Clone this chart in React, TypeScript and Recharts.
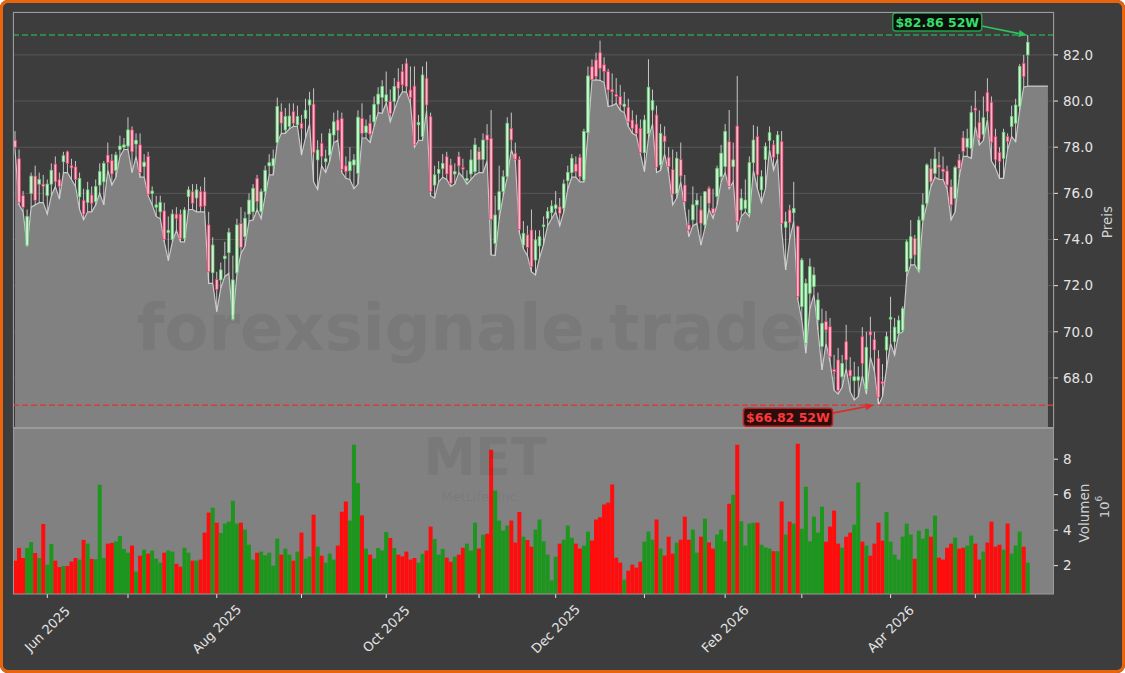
import React from 'react';
import { ComposedChart, Bar, Area, XAxis, YAxis, CartesianGrid, ReferenceLine, ReferenceDot, Cell } from 'recharts';

// ---------- data ----------
const opens = [
78.3, 77.5, 75.9, 73.75, 76.0, 76.75, 76.4, 76.4, 75.9, 76.4,
77.27, 76.6, 77.37, 77.8, 77.2, 77.15, 75.85, 75.7, 75.6, 75.93,
75.64, 76.36, 76.5, 77.66, 77.42, 77.0, 77.9, 78.0, 78.05, 78.75,
78.14, 78.1, 77.16, 77.6, 76.0, 75.4, 75.2, 75.24, 74.3, 74.0,
75.1, 75.1, 74.05, 75.86, 76.07, 75.8, 76.07, 76.07, 74.63, 72.56,
72.27, 72.25, 73.17, 73.43, 70.54, 72.56, 74.7, 74.12, 75.1, 75.2,
76.65, 75.2, 76.07, 77.19, 77.19, 78.2, 79.54, 78.75, 78.9, 79.54,
78.97, 79.04, 79.25, 79.83, 79.87, 77.45, 78.17, 77.37, 77.66, 78.53,
79.18, 79.25, 77.19, 76.98, 77.23, 76.87, 79.25, 78.63, 79.04, 79.1,
79.87, 80.16, 79.98, 79.98, 79.98, 80.84, 81.28, 81.64, 80.48, 80.65,
78.97, 78.46, 80.99, 79.33, 76.36, 76.87, 77.08, 77.59, 77.23, 76.84,
77.59, 77.12, 76.56, 76.84, 76.94, 77.81, 77.47, 78.53, 78.38, 73.83,
75.28, 76.07, 76.72, 78.82, 77.74, 77.47, 73.76, 74.2, 74.41, 73.11,
73.72, 74.56, 74.92, 75.16, 75.35, 75.42, 75.35, 76.55, 76.9, 77.27,
77.56, 76.58, 78.63, 81.49, 81.78, 82.1, 81.57, 81.28, 80.5, 80.28,
80.19, 79.76, 79.73, 79.18, 79.0, 78.82, 77.76, 78.6, 79.61, 79.4,
77.23, 78.49, 77.56, 77.04, 76.0, 77.47, 76.36, 74.63, 74.85, 75.5,
75.28, 74.63, 76.22, 75.35, 75.86, 76.72, 77.16, 78.24, 77.16, 78.92,
75.28, 75.35, 75.13, 77.33, 78.46, 76.15, 77.47, 78.29, 78.1, 77.71,
78.24, 74.53, 75.28, 75.16, 74.56, 71.09, 69.5, 71.67, 71.96, 70.51,
69.36, 70.44, 70.22, 68.37, 68.78, 68.05, 69.57, 68.34, 67.88, 67.9,
69.79, 67.5, 70.0, 69.67, 68.85, 67.84, 69.21, 70.55, 69.57, 69.93,
70.07, 72.6, 73.18, 74.05, 72.68, 74.84, 75.57, 77.08, 76.87, 77.23,
77.05, 76.97, 76.29, 75.78, 77.45, 78.41, 78.0, 77.95, 79.7, 79.08,
78.56, 80.38, 79.95, 78.46, 77.78, 77.52, 78.46, 78.9, 79.04, 79.76,
81.64, 82.0,
];
const highs = [
78.7, 77.9, 76.1, 75.3, 76.9, 77.2, 76.9, 76.8, 76.6, 77.3,
77.6, 76.9, 77.8, 77.85, 77.5, 77.4, 76.9, 76.2, 76.5, 76.3,
76.6, 77.3, 77.4, 78.2, 77.7, 77.8, 78.5, 78.4, 79.3, 78.9,
78.6, 78.6, 77.7, 77.8, 76.3, 75.9, 75.9, 75.6, 75.0, 75.3,
75.4, 75.3, 75.4, 76.3, 76.4, 76.4, 76.3, 76.7, 75.2, 74.1,
72.6, 73.0, 73.9, 74.5, 73.3, 74.9, 75.4, 75.2, 76.0, 76.4,
76.8, 76.2, 77.2, 77.7, 77.9, 80.15, 79.9, 79.7, 79.9, 79.9,
79.8, 79.4, 80.1, 80.4, 80.55, 78.3, 78.6, 77.9, 78.8, 79.5,
79.6, 79.5, 77.6, 78.0, 77.7, 79.6, 79.9, 79.2, 79.4, 80.2,
80.6, 80.9, 81.28, 80.5, 81.0, 81.42, 81.6, 81.85, 81.5, 81.5,
79.4, 81.5, 81.71, 79.5, 77.2, 77.4, 77.7, 77.8, 77.5, 77.3,
77.8, 77.5, 77.0, 77.9, 78.4, 78.0, 78.6, 79.0, 79.61, 75.9,
77.2, 77.0, 79.3, 79.5, 78.2, 77.6, 74.8, 74.6, 75.3, 74.4,
74.4, 75.0, 75.4, 75.7, 76.1, 75.8, 76.6, 77.2, 77.7, 77.6,
77.7, 78.8, 81.5, 81.8, 82.1, 82.62, 81.9, 81.4, 81.2, 81.0,
80.7, 80.4, 80.1, 79.6, 79.4, 79.2, 79.4, 81.81, 80.5, 79.8,
79.0, 78.9, 78.0, 77.9, 77.8, 78.2, 76.8, 75.3, 76.3, 76.0,
75.9, 76.1, 76.3, 76.2, 77.2, 78.1, 79.0, 79.61, 78.2, 81.09,
76.2, 76.6, 77.6, 78.96, 78.9, 77.0, 78.2, 78.9, 78.3, 78.7,
78.7, 75.2, 75.5, 76.5, 74.6, 73.2, 72.3, 73.18, 72.8, 71.7,
71.0, 70.9, 70.6, 69.0, 69.3, 69.0, 70.3, 68.9, 68.7, 68.5,
70.2, 70.0, 70.65, 70.0, 69.2, 68.6, 70.0, 71.52, 70.6, 70.7,
71.1, 74.0, 74.84, 74.2, 75.0, 76.0, 77.3, 77.5, 78.0, 77.8,
77.6, 77.2, 76.6, 77.2, 77.7, 78.7, 78.8, 79.8, 80.44, 79.6,
80.2, 80.99, 80.2, 78.8, 78.0, 78.8, 78.6, 79.8, 80.1, 81.6,
82.0, 82.86,
];
const lows = [
77.9, 75.5, 75.2, 73.7, 75.4, 75.5, 75.6, 75.6, 75.1, 75.9,
76.3, 75.75, 76.9, 76.9, 76.6, 76.3, 75.3, 74.85, 75.2, 75.2,
75.5, 76.0, 75.5, 77.0, 76.36, 76.7, 77.6, 77.9, 77.9, 76.9,
77.6, 76.7, 76.7, 75.9, 75.5, 75.0, 74.9, 73.9, 73.08, 73.9,
74.4, 73.9, 73.9, 75.3, 75.3, 75.2, 75.2, 75.2, 72.1, 72.1,
70.87, 71.9, 72.4, 72.53, 70.5, 72.5, 73.4, 73.7, 74.8, 74.85,
75.3, 74.9, 75.9, 76.8, 76.8, 78.2, 78.6, 78.6, 78.8, 78.9,
78.9, 77.66, 78.4, 79.0, 76.5, 76.17, 77.2, 76.9, 77.4, 78.2,
78.3, 76.9, 76.65, 76.6, 76.2, 76.4, 78.4, 78.4, 78.2, 78.9,
79.5, 79.47, 79.93, 79.1, 79.6, 80.1, 80.4, 80.4, 79.9, 78.0,
78.3, 78.3, 79.6, 75.9, 75.8, 76.5, 76.7, 76.6, 76.3, 76.4,
76.9, 76.7, 76.4, 76.6, 76.8, 76.9, 76.9, 77.4, 73.33, 73.3,
74.9, 75.9, 76.7, 77.9, 77.4, 74.3, 73.6, 73.3, 72.6, 72.46,
73.2, 73.8, 74.6, 74.9, 75.2, 74.59, 75.2, 76.2, 76.7, 76.7,
76.5, 76.5, 78.6, 80.9, 80.92, 80.9, 80.8, 79.76, 79.8, 79.9,
79.6, 79.5, 78.9, 78.6, 78.5, 77.7, 76.94, 78.4, 79.0, 76.9,
77.0, 77.7, 76.9, 75.5, 75.8, 76.5, 75.3, 74.12, 74.6, 74.7,
73.76, 74.5, 75.3, 74.92, 75.5, 76.5, 76.9, 76.2, 76.5, 74.34,
75.0, 75.2, 75.0, 77.0, 76.2, 75.6, 76.2, 77.9, 77.0, 77.5,
74.4, 72.68, 74.0, 74.8, 71.4, 70.5, 69.07, 71.0, 71.6, 70.08,
68.35, 69.5, 68.7, 67.47, 67.3, 67.6, 68.4, 67.4, 67.04, 67.2,
68.1, 67.3, 68.9, 68.3, 66.82, 67.2, 68.4, 69.5, 68.99, 69.9,
70.0, 72.39, 72.9, 72.9, 72.6, 74.8, 75.5, 76.3, 76.7, 76.6,
76.6, 76.2, 74.85, 75.2, 76.7, 77.6, 77.6, 77.52, 78.9, 78.1,
78.3, 79.2, 77.4, 77.1, 76.65, 76.65, 77.9, 78.46, 78.24, 79.6,
80.6, 80.65,
];
const closes = [
78.0, 75.6, 75.4, 75.0, 76.75, 75.7, 76.6, 76.3, 76.4, 77.0,
76.5, 76.3, 77.63, 77.3, 77.1, 76.6, 76.65, 75.1, 76.15, 75.57,
76.3, 76.94, 77.3, 77.33, 76.84, 77.66, 78.05, 78.1, 78.75, 77.8,
78.3, 76.9, 77.35, 75.96, 76.1, 75.5, 75.6, 74.0, 74.4, 75.1,
74.9, 74.05, 75.28, 76.15, 75.57, 76.15, 75.42, 75.45, 72.6, 73.76,
71.84, 72.68, 73.28, 74.3, 72.25, 74.63, 73.66, 74.92, 75.71, 76.22,
75.64, 76.07, 77.0, 77.33, 77.5, 79.76, 79.04, 79.33, 79.35, 79.04,
79.33, 78.82, 79.6, 80.05, 77.76, 77.88, 77.6, 77.5, 78.6, 79.1,
78.72, 77.04, 76.94, 77.37, 77.45, 79.3, 78.6, 78.92, 78.57, 79.86,
80.3, 80.63, 80.27, 79.47, 80.63, 80.55, 80.7, 80.63, 80.16, 78.1,
79.07, 81.13, 79.83, 76.07, 76.8, 77.04, 77.3, 76.84, 76.44, 76.94,
77.19, 77.05, 76.64, 77.45, 78.1, 77.45, 78.31, 78.31, 74.87, 75.06,
76.07, 76.72, 79.04, 78.31, 77.47, 74.44, 74.27, 73.66, 72.82, 73.98,
74.12, 74.63, 75.21, 75.45, 75.5, 75.13, 76.41, 76.91, 77.52, 76.94,
76.72, 78.68, 81.09, 80.92, 81.06, 81.42, 81.28, 80.48, 80.4, 80.2,
79.83, 79.87, 79.1, 78.82, 78.6, 77.76, 79.18, 80.6, 80.02, 77.13,
78.6, 78.24, 77.16, 75.97, 77.52, 76.75, 75.64, 74.41, 75.5, 75.7,
74.7, 76.07, 75.57, 75.13, 77.08, 77.74, 78.68, 76.3, 77.45, 74.77,
75.79, 75.71, 77.33, 78.31, 76.8, 76.72, 78.03, 78.63, 77.56, 78.53,
74.7, 74.77, 74.73, 75.35, 71.52, 73.11, 72.1, 72.82, 72.46, 71.38,
70.37, 70.08, 68.92, 68.27, 67.45, 68.63, 68.78, 68.08, 68.05, 68.05,
68.63, 69.33, 69.86, 69.21, 67.16, 67.74, 69.79, 70.63, 70.2, 70.5,
71.0, 73.9, 74.12, 73.33, 74.84, 75.5, 77.23, 76.5, 77.49, 77.13,
76.94, 76.36, 75.5, 77.12, 77.08, 77.81, 78.38, 79.51, 79.6, 78.36,
79.28, 79.54, 78.22, 77.45, 77.38, 78.65, 78.24, 79.33, 79.83, 81.5,
81.06, 82.55,
];
// volume in millions
const volumes = [
2.28, 3.0, 2.43, 3.0, 3.33, 2.71, 2.43, 4.35, 2.06, 3.22,
2.28, 1.92, 1.98, 1.98, 2.23, 2.43, 2.34, 3.45, 3.24, 2.38,
2.36, 6.56, 2.43, 3.24, 3.28, 3.37, 3.67, 2.94, 2.73, 3.13,
1.66, 2.56, 2.9, 2.68, 2.85, 2.39, 2.17, 2.73, 2.85, 2.79,
2.1, 1.94, 3.01, 2.73, 2.28, 2.28, 2.34, 3.86, 4.99, 5.27,
4.42, 3.84, 4.37, 4.48, 5.66, 4.37, 4.42, 4.03, 3.18, 2.34,
2.73, 2.79, 2.58, 2.73, 2.0, 3.52, 2.62, 2.96, 2.62, 2.28,
2.79, 3.86, 2.39, 2.51, 4.87, 3.07, 2.56, 2.17, 2.68, 2.34,
3.13, 5.04, 5.61, 4.54, 8.82, 6.66, 4.83, 2.96, 2.62, 2.4,
2.99, 2.85, 3.9, 3.56, 2.99, 2.62, 2.52, 2.79, 2.34, 2.43,
2.17, 2.66, 2.85, 4.2, 3.5, 2.62, 2.94, 2.45, 2.22, 2.5,
2.62, 3.01, 3.24, 2.85, 4.42, 2.96, 3.75, 3.8, 8.53, 6.23,
4.54, 3.98, 4.26, 4.54, 3.3, 5.02, 3.63, 3.44, 3.07, 4.03,
4.6, 3.37, 2.62, 1.17, 2.5, 3.24, 3.46, 4.26, 3.57, 3.24,
2.96, 3.13, 3.92, 3.41, 4.6, 4.73, 5.44, 5.55, 6.57, 2.45,
2.17, 1.21, 1.72, 2.06, 1.89, 2.22, 3.35, 3.92, 3.46, 4.6,
2.96, 2.57, 3.63, 2.68, 3.3, 3.46, 4.76, 3.46, 4.03, 2.73,
3.63, 4.65, 3.31, 2.96, 3.75, 4.03, 3.37, 5.49, 6.0, 8.82,
4.5, 3.13, 4.38, 4.42, 4.42, 3.18, 3.03, 2.96, 2.81, 2.81,
5.61, 3.75, 4.48, 4.37, 8.87, 4.08, 6.45, 3.37, 4.76, 3.86,
5.32, 3.35, 4.2, 5.1, 3.24, 3.01, 3.63, 3.86, 4.31, 6.68,
3.35, 3.13, 2.56, 3.24, 4.42, 3.41, 5.02, 3.35, 2.62, 2.34,
3.63, 4.37, 3.75, 2.39, 3.97, 3.52, 4.08, 3.63, 4.82, 2.45,
2.34, 3.01, 3.24, 3.58, 2.96, 3.01, 3.13, 3.69, 3.24, 2.34,
2.79, 3.3, 4.48, 3.07, 3.18, 2.9, 4.37, 2.68, 3.13, 3.92,
3.07, 2.17,
];

const PRICE_TICKS = [66, 68, 70, 72, 74, 76, 78, 80, 82];
const VOLUME_TICKS = [2, 4, 6, 8];
const X_LABELS = ['Jun 2025', 'Aug 2025', 'Oct 2025', 'Dec 2025', 'Feb 2026', 'Apr 2026'];
const MONTHS = ['Jan', 'Feb', 'Mar', 'Apr', 'May', 'Jun', 'Jul', 'Aug', 'Sep', 'Oct', 'Nov', 'Dec'];
const START_DATE = '2025-05-20';
const HOLIDAYS = ['2025-05-26', '2025-06-19', '2025-07-04', '2025-09-01', '2025-11-27', '2025-12-25', '2026-01-01', '2026-01-19', '2026-02-16', '2026-04-03'];
const PAD = 6;

function buildDates(count: number): string[] {
  const out: string[] = [];
  const d = new Date(START_DATE + 'T00:00:00Z');
  while (out.length < count) {
    const wd = d.getUTCDay();
    const s = d.toISOString().slice(0, 10);
    if (wd !== 0 && wd !== 6 && !HOLIDAYS.includes(s)) out.push(s);
    d.setUTCDate(d.getUTCDate() + 1);
  }
  return out;
}

const dates = buildDates(opens.length);
const lastLow = lows[lows.length - 1];
const rows: any[] = [
  ...dates.map((d, i) => ({ d, o: opens[i], h: highs[i], l: lows[i], c: closes[i], v: volumes[i], a: lows[i] })),
  ...Array.from({ length: PAD }, (_, k) => ({ d: `pad${k}`, o: null, h: null, l: null, c: null, v: null, a: k < PAD - 1 ? lastLow : null })),
];
const monthTicks = dates.filter((d, i) => i > 0 && d.slice(0, 7) !== dates[i - 1].slice(0, 7));

let hiIdx = 0; let loIdx = 0;
highs.forEach((h, i) => { if (h > highs[hiIdx]) hiIdx = i; });
lows.forEach((l, i) => { if (l < lows[loIdx]) loIdx = i; });
const hi = highs[hiIdx];
const lo = lows[loIdx];

// ---------- styles ----------
const BG = '#3d3d3d';
const GRID = '#575757';
const AREA = '#818181';
const TXT = '#e4e4e4';
const UP_EDGE = '#5ad46c';
const UP_FILL = '#d6eeda';
const DN_EDGE = '#f23a6a';
const DN_FILL = '#f3bccb';
const WICK = '#d6d6d6';
const VOL_UP = '#1c961c';
const VOL_DN = '#ff0c0c';
const FONT = '"DejaVu Sans", sans-serif';

const fmtMonth = (d: string) => {
  const [y, m] = d.split('-');
  return `${MONTHS[Number(m) - 1]} ${y}`;
};

const Candle = (p: any) => {
  const { x, y, width, height, payload } = p;
  if (!payload || payload.o == null || height == null) return null;
  const { o, h, l, c } = payload;
  const cx = x + width / 2;
  const k = h === l ? 0 : height / (h - l);
  const yO = y + (h - o) * k;
  const yC = y + (h - c) * k;
  const up = c >= o;
  const top = Math.min(yO, yC);
  const bh = Math.max(Math.abs(yO - yC), 1);
  const bw = 2.6;
  return (
    <g>
      <line x1={cx} x2={cx} y1={y} y2={y + height} stroke={WICK} strokeWidth={0.9} />
      <rect x={cx - bw / 2} y={top} width={bw} height={bh} fill={up ? UP_FILL : DN_FILL} stroke={up ? UP_EDGE : DN_EDGE} strokeWidth={0.75} />
    </g>
  );
};

const Arrow = ({ x1, y1, x2, y2, color }: any) => {
  const ang = Math.atan2(y2 - y1, x2 - x1);
  const L = 8; const W = 3.5;
  const bx = x2 - L * Math.cos(ang); const by = y2 - L * Math.sin(ang);
  const px = -Math.sin(ang) * W; const py = Math.cos(ang) * W;
  return (
    <g>
      <line x1={x1} y1={y1} x2={bx} y2={by} stroke={color} strokeWidth={1.6} />
      <polygon points={`${x2},${y2} ${bx + px},${by + py} ${bx - px},${by - py}`} fill={color} />
    </g>
  );
};

const HiLabel = (p: any) => {
  const { cx, cy } = p;
  if (cx == null) return null;
  return (
    <g>
      <Arrow x1={cx - 46} y1={cy - 9} x2={cx - 1} y2={cy} color="#2fc45c" />
      <rect x={cx - 135} y={cy - 22} width={89} height={18} rx={3} fill="#0b0f0c" stroke="#25a04c" strokeWidth={1.5} />
      <text x={cx - 90.5} y={cy - 13} textAnchor="middle" dominantBaseline="central" fill="#35de68" fontWeight="bold" fontSize={12.5} fontFamily={FONT}>{`$${hi.toFixed(2)} 52W`}</text>
    </g>
  );
};

const LoLabel = (p: any) => {
  const { cx, cy } = p;
  if (cx == null) return null;
  return (
    <g>
      <Arrow x1={cx - 46} y1={cy + 8} x2={cx - 5} y2={cy} color="#e02a2a" />
      <rect x={cx - 135} y={cy + 3} width={89} height={18} rx={3} fill="#2a0e0e" stroke="#c42020" strokeWidth={1.5} />
      <text x={cx - 90.5} y={cy + 12} textAnchor="middle" dominantBaseline="central" fill="#ff3838" fontWeight="bold" fontSize={12.5} fontFamily={FONT}>{`$${lo.toFixed(2)} 52W`}</text>
    </g>
  );
};

const MonthTick = (p: any) => {
  const { x, y, payload } = p;
  const label = fmtMonth(payload.value);
  if (!X_LABELS.includes(label)) return null;
  const ty = y + 31;
  return (
    <text x={x} y={ty} transform={`rotate(-45 ${x} ${ty})`} textAnchor="middle" dominantBaseline="central" fill={TXT} fontSize={13} fontFamily={FONT}>{label}</text>
  );
};

const WM = 'rgba(40,40,40,0.09)';

export default function App() {
  return (
    <div style={{ position: 'fixed', left: 0, top: 0, width: 1125, height: 673, background: BG, borderRadius: 8, boxShadow: 'inset 0 0 0 3px #e8650e', overflow: 'hidden', fontFamily: FONT }}>
      <div style={{ position: 'absolute', left: 0, top: 0 }}>
        <ComposedChart width={1125} height={430} data={rows} margin={{ top: 12, right: 0, bottom: 2, left: 13 }} barCategoryGap={0} barGap={0}>
          <CartesianGrid stroke={GRID} strokeWidth={1} />
          <XAxis dataKey="d" ticks={monthTicks} interval={0} tick={false} axisLine={false} tickLine={false} height={0} />
          <YAxis orientation="right" width={71} domain={[65.83, 83.86]} ticks={PRICE_TICKS} allowDataOverflow
            tickFormatter={(v: number) => v.toFixed(1)} tick={{ fill: TXT, fontSize: 13.5 }} tickLine={{ stroke: TXT }} tickSize={4} tickMargin={5} axisLine={false} />
          <Area dataKey="a" type="linear" fill={AREA} fillOpacity={1} stroke="#c8c8c8" strokeWidth={1.2} dot={false} activeDot={false} isAnimationActive={false} />
          <ReferenceLine y={hi} stroke="#2e9e50" strokeDasharray="6 3" strokeWidth={1.5} />
          <ReferenceLine y={lo} stroke="#d63c3c" strokeDasharray="6 3" strokeWidth={1.5} />
          <Bar dataKey={(r: any) => (r.o == null ? null : [r.l, r.h])} shape={Candle} isAnimationActive={false} />
          <ReferenceDot x={dates[hiIdx]} y={hi} r={0} shape={HiLabel} />
          <ReferenceDot x={dates[loIdx]} y={lo} r={0} shape={LoLabel} />
        </ComposedChart>
      </div>
      <div style={{ position: 'absolute', left: 0, top: 428 }}>
        <ComposedChart width={1125} height={245} data={rows} margin={{ top: 0, right: 0, bottom: 0, left: 13 }} barCategoryGap={0} barGap={0}>
          <CartesianGrid fill={AREA} fillOpacity={1} horizontal={false} vertical={false} stroke="none" />
          <XAxis dataKey="d" ticks={monthTicks} interval={0} height={79} tick={MonthTick} tickLine={{ stroke: TXT }} tickSize={4} tickMargin={0} axisLine={false} />
          <YAxis orientation="right" width={71} domain={[0.4, 9.76]} ticks={VOLUME_TICKS} allowDataOverflow
            tick={{ fill: TXT, fontSize: 13.5 }} tickLine={{ stroke: TXT }} tickSize={4} tickMargin={5} axisLine={false} />
          <Bar dataKey="v" isAnimationActive={false}>
            {rows.map((r, i) => (
              <Cell key={i} fill={r.c >= r.o ? VOL_UP : VOL_DN} />
            ))}
          </Bar>
        </ComposedChart>
      </div>
      <svg width={1125} height={673} style={{ position: 'absolute', left: 0, top: 0, pointerEvents: 'none' }}>
        <text x={470} y={350} textAnchor="middle" fontSize={64} fontWeight="bold" fill={WM} fontFamily={FONT}>forexsignale.trade</text>
        <text x={485} y={475} textAnchor="middle" fontSize={52} fontWeight="bold" fill={WM} fontFamily={FONT}>MET</text>
        <text x={481} y={501} textAnchor="middle" fontSize={13} fill={WM} fontFamily={FONT}>MetLife, Inc.</text>
        <rect x={13.5} y={12.5} width={1040} height={415} fill="none" stroke="#9a9a9a" strokeWidth={1} />
        <rect x={13.5} y={428.5} width={1040} height={165.5} fill="none" stroke="#9a9a9a" strokeWidth={1} />
        <text transform="translate(1107,222) rotate(-90)" textAnchor="middle" dominantBaseline="central" fontSize={13.5} fill="#d0d0d0" fontFamily={FONT}>Preis</text>
        <text transform="translate(1083.5,513) rotate(-90)" textAnchor="middle" dominantBaseline="central" fontSize={13.5} fill="#d0d0d0" fontFamily={FONT}>Volumen</text>
        <text transform="translate(1104,507) rotate(-90)" textAnchor="middle" dominantBaseline="central" fontSize={13} fill="#d0d0d0" fontFamily={FONT}>10<tspan dy={-5} fontSize={9}>6</tspan></text>
      </svg>
    </div>
  );
}
